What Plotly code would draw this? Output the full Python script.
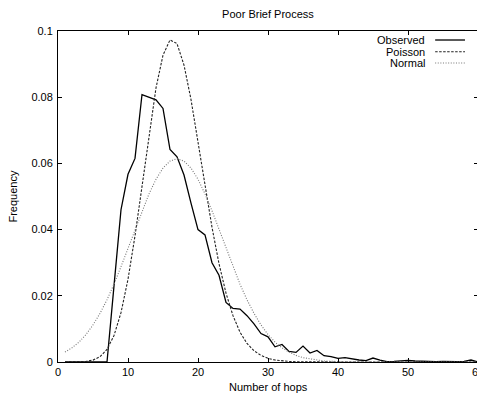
import plotly.graph_objects as go

hops = list(range(1, 61))

observed = [0, 0, 0, 0, 0, 0, 0, 0.023, 0.046, 0.0567,
            0.0615, 0.0808, 0.0800, 0.0792, 0.0766, 0.0642, 0.0620, 0.0565, 0.0480, 0.0400,
            0.0384, 0.0300, 0.0262, 0.0180, 0.0162, 0.0160, 0.0140, 0.0115, 0.0086, 0.0076,
            0.0046, 0.0053, 0.0032, 0.0029, 0.0048, 0.0027, 0.0035, 0.0019, 0.0016, 0.0011,
            0.0013, 0.0009, 0.0006, 0.0004, 0.0012, 0.0006, 0.0001, 0.0002, 0.0004, 0.0005,
            0.0003, 0.0002, 0.0002, 0.0001, 0.0002, 0.0001, 0.0001, 0.0002, 0.0006, 0.0]

poisson = [0.0, 0.00001, 0.00004, 0.00017, 0.00057, 0.0016, 0.0038, 0.0080, 0.0149, 0.0250,
           0.0381, 0.0534, 0.0690, 0.0828, 0.0927, 0.0973, 0.0962, 0.0897, 0.0793, 0.0666,
           0.0533, 0.0407, 0.0297, 0.0208, 0.0140, 0.0090, 0.0056, 0.0034, 0.0020, 0.0011,
           0.0006, 0.0003, 0.00016, 0.00008, 0.00004, 0.00002, 0.00001, 0, 0, 0,
           0, 0, 0, 0, 0, 0, 0, 0, 0, 0,
           0, 0, 0, 0, 0, 0, 0, 0, 0, 0]

normal = [0.0030, 0.0043, 0.0060, 0.0083, 0.0112, 0.0147, 0.0188, 0.0235, 0.0288, 0.0344,
          0.0401, 0.0457, 0.0508, 0.0552, 0.0586, 0.0607, 0.0614, 0.0607, 0.0586, 0.0552,
          0.0508, 0.0457, 0.0401, 0.0344, 0.0288, 0.0235, 0.0188, 0.0147, 0.0112, 0.0083,
          0.0060, 0.0043, 0.0030, 0.0020, 0.0013, 0.0009, 0.0005, 0.0003, 0.0002, 0.0001,
          0.00007, 0.00004, 0.00002, 0.00001, 0, 0, 0, 0, 0, 0,
          0, 0, 0, 0, 0, 0, 0, 0, 0, 0]

series_names = ["Observed", "Poisson", "Normal"]
x_ticks = [0, 10, 20, 30, 40, 50, 60]
y_ticks = [0, 0.02, 0.04, 0.06, 0.08, 0.1]
y_tick_labels = ["0", "0.02", "0.04", "0.06", "0.08", "0.1"]

FONT = "Liberation Sans, Arial, Helvetica, sans-serif"
styles = [
    dict(color="black", width=1.3, dash="solid"),
    dict(color="#222222", width=1.1, dash="2.5px,1.5px"),
    dict(color="#777777", width=1.1, dash="1px,1.6px"),
]

fig = go.Figure()
for name, ys, st in zip(series_names, [observed, poisson, normal], styles):
    fig.add_trace(go.Scatter(x=hops, y=ys, mode="lines", name=name, line=st,
                             showlegend=False))

# custom gnuplot-style legend (text right, sample line on right)
leg_y = [0.9728, 0.9375, 0.9033]
for name, st, yy in zip(series_names, styles, leg_y):
    fig.add_annotation(x=0.879, y=yy, xref="paper", yref="paper", text=name,
                       showarrow=False, xanchor="right", yanchor="middle",
                       font=dict(family=FONT, size=11, color="black"))
    fig.add_shape(type="line", xref="paper", yref="paper", x0=0.898, x1=0.969,
                  y0=yy, y1=yy, line=st)

# axis titles
fig.add_annotation(x=0.5, y=-0.0755, xref="paper", yref="paper", text="Number of hops",
                   showarrow=False, xanchor="center", yanchor="middle",
                   font=dict(family=FONT, size=11, color="black"))
fig.add_annotation(x=-0.1095, y=0.5, xref="paper", yref="paper", text="Frequency",
                   showarrow=False, xanchor="center", yanchor="middle", textangle=-90,
                   font=dict(family=FONT, size=11, color="black"))

axis_common = dict(showgrid=False, zeroline=False, showline=True, linecolor="black",
                   linewidth=1, mirror="ticks", ticks="inside", ticklen=4,
                   tickcolor="black", automargin=False, ticklabeloverflow="allow",
                   tickfont=dict(family=FONT, size=11, color="black"))

fig.update_xaxes(range=[0, 60], tickvals=x_ticks, **axis_common)
fig.update_yaxes(range=[0, 0.1], tickvals=y_ticks, ticktext=y_tick_labels,
                 ticklabelstandoff=2, **axis_common)

# page body has an 8px default margin, so the figure is 8px smaller than the window
fig.update_layout(
    width=477, height=390,
    margin=dict(l=50, r=7, t=23, b=36, pad=0),
    paper_bgcolor="white", plot_bgcolor="white",
    title=dict(text="Poor Brief Process", x=0.545, xanchor="center", y=0.985, yanchor="middle",
               font=dict(family=FONT, size=11, color="black")),
    showlegend=False,
)

fig.write_html("out.html")
